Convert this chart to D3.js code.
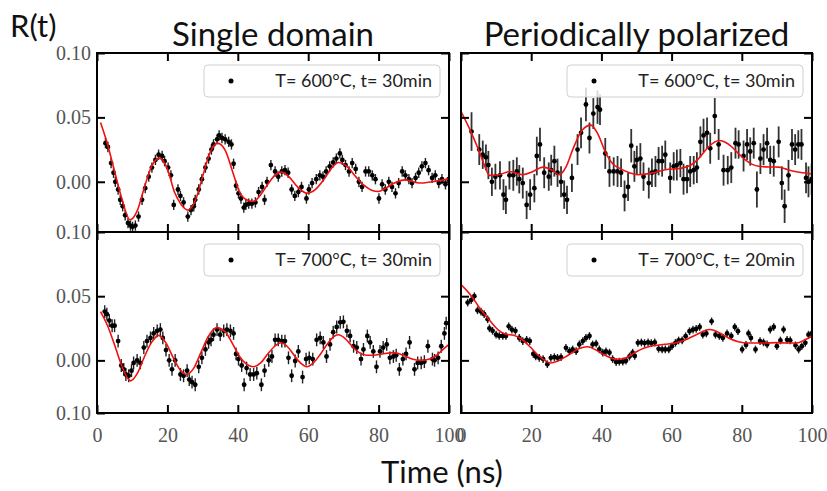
<!DOCTYPE html>
<html>
<head>
<meta charset="utf-8">
<script src="https://cdn.jsdelivr.net/npm/d3@7"></script>
<style>
  body { margin: 0; background: #fff; }
</style>
</head>
<body>
<div id="chart"></div>
<script>
// ---- data: [time (ns), R(t)] ----
const singleA = [[2.4,0.030],[3.1,0.027],[4.0,0.0145],[4.7,0.007],[5.2,0.000],[6.0,-0.006],[6.6,-0.014],[7.3,-0.019],[8.0,-0.026],[8.8,-0.032],[9.5,-0.034],[10.1,-0.035],[10.9,-0.034],[11.8,-0.027],[12.8,-0.014],[13.7,-0.005],[14.7,0.004],[15.6,0.011],[16.6,0.017],[17.5,0.021],[18.5,0.020],[19.2,0.016],[20.2,0.011],[21.0,0.005],[21.8,-0.018],[23.0,-0.006],[23.7,-0.011],[24.6,-0.016],[25.8,-0.027],[26.7,-0.022],[27.5,-0.019],[27.9,-0.014],[28.9,-0.006],[29.8,0.002],[30.8,0.011],[31.7,0.018],[32.5,0.025],[33.1,0.029],[34.1,0.033],[34.7,0.036],[35.5,0.034],[36.4,0.033],[37.4,0.031],[38.2,0.029],[38.8,0.014],[39.5,-0.003],[40.2,-0.009],[40.9,-0.013],[41.7,-0.020],[42.3,-0.018],[43.1,-0.017],[44.0,-0.017],[45.0,-0.016],[45.9,-0.008],[46.9,-0.004],[47.6,-0.014],[48.3,0.000],[49.4,0.013],[50.6,0.008],[51.5,0.004],[52.5,0.008],[53.4,0.009],[54.3,0.007],[55.3,-0.006],[56.2,-0.011],[57.2,-0.008],[58.1,-0.004],[59.5,-0.013],[60.2,-0.006],[61.1,-0.001],[62.3,0.002],[63.3,0.005],[64.2,0.004],[65.1,0.008],[66.1,0.012],[67.1,0.015],[68.0,0.018],[69.0,0.022],[69.7,0.017],[70.6,0.013],[71.6,0.008],[72.5,0.0145],[73.5,0.010],[74.4,0.000],[75.3,-0.004],[76.3,0.008],[77.2,0.008],[78.2,0.005],[79.1,0.002],[80.1,-0.013],[81.0,-0.002],[81.9,-0.006],[82.9,0.000],[83.8,-0.004],[84.8,-0.009],[85.7,-0.001],[86.7,0.008],[87.6,0.005],[88.6,0.002],[89.5,-0.001],[90.5,0.003],[91.4,0.007],[92.3,0.012],[93.3,0.0145],[94.2,0.009],[95.2,0.003],[96.1,0.005],[97.1,-0.001],[98.0,0.002],[99.0,-0.002],[99.9,0.002]];
const singleAFit = [[1,0.046],[3,0.029],[5,0.008],[7,-0.0126],[9.4,-0.0295],[11.5,-0.022],[13.5,-0.004],[15.5,0.012],[17.7,0.0184],[20,0.010],[22,-0.008],[24,-0.018],[25.9,-0.022],[28,-0.014],[30,0.004],[32,0.022],[34.2,0.030],[36.5,0.024],[38.5,0.008],[40.5,-0.008],[42.5,-0.014],[44.4,-0.0153],[46.5,-0.010],[48.5,-0.002],[50.5,0.005],[52.3,0.0075],[54.5,0.004],[57,-0.004],[59.6,-0.0088],[62,-0.006],[64.5,0.002],[66.5,0.010],[68.6,0.015],[71,0.012],[73.5,0.004],[76,-0.003],[78,-0.0065],[79.9,-0.0075],[82,-0.005],[84.5,-0.001],[87.5,0.0015],[91.8,-0.001],[95,0.000],[100,0.0023]];

const periodicA = [[3.0,0.039,0.015],[5.2,0.025,0.012],[6.2,0.021,0.011],[7.1,0.019,0.010],[7.8,0.013,0.011],[8.8,0.000,0.011],[9.8,0.004,0.010],[11.1,0.005,0.011],[12.1,-0.010,0.012],[12.8,-0.014,0.011],[13.8,0.005,0.011],[14.9,0.005,0.012],[15.9,0.008,0.011],[16.6,0.002,0.011],[17.6,-0.001,0.012],[18.7,-0.018,0.011],[19.7,-0.010,0.012],[20.9,-0.005,0.011],[21.6,0.020,0.015],[22.5,0.029,0.013],[23.7,0.007,0.012],[25.0,0.004,0.011],[25.7,0.009,0.012],[26.6,0.016,0.012],[27.5,0.007,0.011],[28.5,0.000,0.012],[29.4,-0.010,0.011],[30.2,-0.014,0.011],[31.6,0.003,0.011],[33.2,0.025,0.012],[34.2,0.038,0.012],[35.6,0.060,0.013],[36.6,0.034,0.012],[37.7,0.053,0.012],[38.9,0.058,0.013],[39.6,0.056,0.012],[41.1,0.022,0.012],[42.3,0.008,0.012],[43.5,0.008,0.011],[44.6,0.008,0.012],[45.6,0.007,0.011],[46.6,-0.011,0.012],[47.6,-0.004,0.011],[48.5,0.028,0.013],[49.4,0.012,0.012],[50.1,0.017,0.011],[51.1,0.018,0.012],[52.0,0.004,0.011],[53.5,-0.001,0.012],[54.4,0.007,0.011],[55.4,0.008,0.012],[56.3,0.016,0.011],[57.3,0.016,0.012],[58.2,0.021,0.011],[59.6,0.003,0.012],[60.6,0.012,0.011],[61.5,0.013,0.012],[62.5,0.0145,0.011],[63.4,0.002,0.012],[64.4,0.002,0.011],[65.3,0.008,0.012],[66.3,0.009,0.011],[67.2,0.011,0.012],[68.2,0.031,0.012],[69.1,0.036,0.013],[70.1,0.038,0.012],[71.0,0.026,0.012],[72.3,0.051,0.014],[73.4,0.029,0.012],[74.8,0.009,0.012],[76.0,0.009,0.011],[77.0,0.011,0.012],[78.2,0.030,0.012],[79.1,0.029,0.011],[80.5,0.020,0.012],[81.5,0.029,0.012],[82.4,0.0235,0.011],[83.4,0.030,0.012],[84.3,-0.006,0.014],[85.3,0.018,0.012],[86.2,0.025,0.012],[87.2,0.030,0.012],[88.1,0.017,0.011],[89.1,0.016,0.012],[90.5,0.031,0.012],[91.4,-0.001,0.013],[92.2,-0.019,0.013],[93.3,0.005,0.012],[94.3,0.029,0.012],[95.2,0.025,0.012],[96.1,0.029,0.011],[97.0,0.029,0.012],[98.3,0.003,0.012],[99.0,0.000,0.012],[99.9,0.002,0.012]];
const periodicAFit = [[0,0.0545],[2.8,0.039],[5.2,0.0235],[6.8,0.012],[8.1,0.005],[10.9,0.0055],[13.8,0.008],[17.6,0.0055],[20.5,0.008],[23.3,0.0114],[26,0.009],[28,0.0055],[30,0.012],[31.8,0.0248],[34.5,0.040],[37,0.044],[39,0.037],[41.3,0.022],[43.2,0.014],[45.1,0.0106],[48,0.007],[50.3,0.0055],[54,0.0065],[58.2,0.0093],[62.9,0.0106],[65.5,0.013],[67.7,0.018],[70.5,0.027],[73.5,0.032],[75,0.031],[77.2,0.027],[79,0.022],[81,0.017],[83,0.0135],[84.8,0.012],[88,0.0115],[90.5,0.0114],[93,0.0095],[95.2,0.008],[97.5,0.007],[100,0.006]];

const singleB = [[2.2,0.038],[2.8,0.036],[3.5,0.031],[4.3,0.027],[5.0,0.027],[6.0,0.015],[6.9,-0.004],[7.6,-0.007],[8.2,-0.011],[9.0,-0.012],[9.8,-0.008],[10.4,-0.002],[11.4,0.000],[12.3,-0.002],[13.3,0.010],[14.2,0.015],[15.2,0.0175],[16.1,0.021],[17.1,0.023],[18.0,0.024],[18.7,0.0175],[19.6,0.008],[20.5,0.000],[21.3,-0.007],[22.2,0.000],[23.7,-0.011],[24.6,-0.012],[25.6,-0.008],[26.2,-0.015],[27.0,-0.017],[27.9,-0.019],[28.9,-0.005],[29.8,0.002],[30.8,0.0085],[31.7,0.014],[32.4,0.016],[33.1,0.020],[34.1,0.024],[35.0,0.020],[36.0,0.023],[36.9,0.024],[37.9,0.023],[38.8,0.021],[39.5,0.005],[40.2,0.001],[41.1,-0.004],[41.8,-0.019],[42.5,-0.006],[43.5,-0.011],[44.5,-0.011],[45.4,-0.010],[46.7,-0.019],[47.6,-0.008],[48.8,0.000],[49.7,0.003],[50.6,0.016],[51.5,0.016],[52.5,0.015],[53.4,0.015],[54.4,0.002],[55.3,-0.012],[56.3,-0.0005],[57.2,0.007],[58.4,-0.013],[59.4,0.001],[60.3,0.002],[61.3,0.001],[62.4,0.016],[63.4,0.0175],[64.3,0.014],[65.2,0.003],[66.2,0.0124],[67.1,0.022],[68.1,0.026],[69.1,0.0296],[70.0,0.030],[71.0,0.023],[71.9,0.019],[72.9,0.011],[73.8,0.010],[75.0,0.001],[75.7,0.0085],[76.8,0.019],[77.6,0.014],[78.5,0.007],[79.4,-0.005],[80.4,0.007],[81.3,0.010],[82.3,0.0124],[83.2,0.002],[84.2,0.003],[85.0,0.004],[85.9,-0.007],[86.9,0.001],[87.8,0.005],[88.8,0.014],[90.2,-0.007],[91.1,-0.002],[92.1,-0.002],[93.0,-0.001],[94.0,0.011],[95.3,0.001],[95.9,0.000],[96.9,0.002],[97.8,0.011],[98.7,0.021],[99.2,0.029]];
const singleBFit = [[1,0.038],[3,0.027],[5,0.012],[7,-0.004],[9.5,-0.016],[11.5,-0.010],[13.5,0.003],[15.5,0.014],[17.5,0.0195],[19.5,0.014],[21.5,0.003],[23.5,-0.007],[25.4,-0.011],[27.5,-0.006],[29.5,0.006],[31.5,0.018],[34,0.0255],[36.5,0.022],[38.5,0.013],[40.5,0.003],[42.5,-0.003],[44.4,-0.005],[46.5,-0.002],[48.5,0.005],[50.5,0.011],[52.2,0.0137],[54,0.011],[56,0.004],[57.8,-0.002],[59.6,-0.005],[61.5,-0.002],[63.5,0.005],[65.5,0.013],[67.5,0.019],[68.6,0.020],[70.5,0.017],[72.5,0.011],[74.5,0.006],[76.5,0.004],[78.5,0.004],[81,0.005],[84.2,0.006],[87,0.004],[89.5,0.001],[92,0.000],[94.5,0.001],[96.5,0.004],[98.5,0.009],[100,0.0124]];

const periodicB = [[1.9,0.045],[2.9,0.047],[3.8,0.050],[4.7,0.039],[5.7,0.038],[6.6,0.036],[7.6,0.032],[8.1,0.025],[9.0,0.023],[10.0,0.020],[10.9,0.019],[11.9,0.019],[12.8,0.019],[13.6,0.0265],[14.5,0.024],[15.5,0.023],[16.6,0.0175],[17.6,0.015],[18.7,0.016],[19.6,0.015],[20.6,0.005],[21.3,0.003],[22.3,0.002],[23.4,0.001],[24.6,-0.003],[25.6,0.002],[26.6,0.0025],[27.5,0.002],[28.5,0.0025],[29.9,0.0098],[30.9,0.0072],[31.8,0.0085],[32.8,0.0072],[33.7,0.0124],[34.7,0.015],[35.6,0.0175],[36.6,0.019],[37.5,0.0124],[38.5,0.013],[39.4,0.0085],[40.4,0.006],[41.3,0.007],[42.3,0.006],[43.2,0.001],[44.2,-0.0013],[45.1,-0.001],[46.1,-0.001],[47.0,-0.0003],[48.0,0.003],[48.9,0.006],[49.5,0.0035],[50.4,0.0137],[51.4,0.014],[52.3,0.0135],[53.3,0.014],[54.2,0.0135],[55.2,0.014],[56.3,0.009],[57.3,0.0085],[58.2,0.0085],[59.2,0.0085],[60.1,0.011],[61.1,0.0137],[62.0,0.0155],[63.0,0.0155],[64.0,0.0188],[65.1,0.0227],[66.1,0.024],[67.0,0.0245],[68.0,0.026],[68.9,0.020],[69.9,0.021],[71.4,0.0304],[72.5,0.020],[73.6,0.019],[74.6,0.0175],[75.8,0.021],[77.0,0.019],[78.0,0.026],[78.9,0.0227],[80.1,0.0085],[81.2,0.012],[81.9,0.021],[82.6,0.0175],[83.9,0.0085],[85.2,0.015],[86.2,0.014],[87.2,0.0124],[88.1,0.024],[89.1,0.026],[90.0,0.011],[91.0,0.0155],[91.9,0.024],[92.9,0.016],[93.8,0.0155],[95.3,0.0117],[96.2,0.0085],[97.1,0.011],[98.1,0.0137],[99.0,0.020],[99.9,0.021]];
const periodicBFit = [[0,0.059],[3,0.050],[5.5,0.040],[8.2,0.031],[10.5,0.024],[12.5,0.0205],[15,0.0195],[17,0.017],[19.5,0.011],[22,0.004],[25.5,-0.002],[28,0.000],[30.5,0.004],[33.5,0.009],[36.1,0.0106],[38.5,0.008],[41,0.004],[44.3,0.0008],[47,0.002],[49.5,0.006],[52,0.0095],[55,0.0115],[58,0.0125],[61,0.0135],[64,0.016],[67,0.020],[70.9,0.024],[74,0.021],[76.5,0.017],[79,0.0145],[82,0.0135],[86,0.0135],[90,0.0138],[93,0.0135],[95.6,0.0135],[98,0.016],[100,0.0188]];

const legendLabels = ["T= 600°C, t= 30min", "T= 600°C, t= 30min", "T= 700°C, t= 30min", "T= 700°C, t= 20min"];
const columnTitles = ["Single domain", "Periodically polarized"];
const xTicks = [0, 20, 40, 60, 80, 100];
const yTicks = [0, 0.05, 0.10];

// ---- layout ----
const width = 827, height = 491;
const sans = "Lato, 'Open Sans', sans-serif";
const serif = "'Liberation Serif', 'DejaVu Serif', serif";

const svg = d3.select("#chart")
  .append("svg")
  .attr("width", width)
  .attr("height", height);

const xLeft = d3.scaleLinear().domain([0, 100]).range([97, 449]);
const xRight = d3.scaleLinear().domain([0, 100]).range([461, 812]);
const yTop = d3.scaleLinear().domain([-0.039, 0.10]).range([232, 53]);
const yBot = d3.scaleLinear().domain([-0.041, 0.10]).range([413, 232]);

const panels = [
  { pts: singleA, fit: singleAFit, err: 0.004, x: xLeft, y: yTop, label: legendLabels[0], yLabels: true, bottom: false },
  { pts: periodicA, fit: periodicAFit, err: null, x: xRight, y: yTop, label: legendLabels[1], yLabels: false, bottom: false },
  { pts: singleB, fit: singleBFit, err: 0.005, x: xLeft, y: yBot, label: legendLabels[2], yLabels: true, bottom: true },
  { pts: periodicB, fit: periodicBFit, err: 0.003, x: xRight, y: yBot, label: legendLabels[3], yLabels: false, bottom: true }
];

const fmt = d3.format(".2f");

panels.forEach(function (p, i) {
  const [x0, x1] = p.x.range();
  const [y1, y0] = p.y.range();
  const g = svg.append("g");

  const clipId = "clip" + i;
  svg.append("clipPath").attr("id", clipId)
    .append("rect")
    .attr("x", x0).attr("y", y0)
    .attr("width", x1 - x0).attr("height", y1 - y0);

  const plot = g.append("g").attr("clip-path", `url(#${clipId})`);

  // error bars
  plot.selectAll(".err")
    .data(p.pts)
    .join("line")
    .attr("class", "err")
    .attr("x1", d => p.x(d[0]))
    .attr("x2", d => p.x(d[0]))
    .attr("y1", d => p.y(d[1] - (p.err === null ? d[2] : p.err)))
    .attr("y2", d => p.y(d[1] + (p.err === null ? d[2] : p.err)))
    .style("stroke", p.err === null ? "#333" : "#222")
    .style("stroke-width", p.err === null ? 1.8 : 1.4);

  // points
  plot.selectAll(".pt")
    .data(p.pts)
    .join("circle")
    .attr("class", "pt")
    .attr("cx", d => p.x(d[0]))
    .attr("cy", d => p.y(d[1]))
    .attr("r", 2.4)
    .style("fill", "#000");

  // fit line
  const line = d3.line()
    .x(d => p.x(d[0]))
    .y(d => p.y(d[1]))
    .curve(d3.curveMonotoneX);
  plot.append("path")
    .datum(p.fit)
    .attr("d", line)
    .style("fill", "none")
    .style("stroke", "#f01010")
    .style("stroke-width", 1.6);

  // axes, ticks pointing inward on all sides
  const axB = g.append("g")
    .attr("transform", `translate(0,${y1})`)
    .call(d3.axisBottom(p.x).tickValues(xTicks).tickSizeInner(-8).tickSizeOuter(0)
      .tickPadding(p.bottom ? 15 : 0)
      .tickFormat(p.bottom ? d3.format("d") : ""));
  const axT = g.append("g")
    .attr("transform", `translate(0,${y0})`)
    .call(d3.axisTop(p.x).tickValues(xTicks).tickSizeInner(-8).tickSizeOuter(0).tickFormat(""));

  const yVals = p.bottom && p.yLabels ? [p.y.domain()[0]].concat(yTicks) : yTicks;
  const axL = g.append("g")
    .attr("transform", `translate(${x0},0)`)
    .call(d3.axisLeft(p.y).tickValues(yVals).tickSizeInner(-8).tickSizeOuter(0)
      .tickPadding(6)
      .tickFormat(p.yLabels ? (d => d < 0 ? "0.10" : fmt(d)) : ""));
  const axR = g.append("g")
    .attr("transform", `translate(${x1},0)`)
    .call(d3.axisRight(p.y).tickValues(yTicks).tickSizeInner(-8).tickSizeOuter(0).tickFormat(""));

  [axB, axT, axL, axR].forEach(function (a) {
    a.select(".domain").remove();
    a.selectAll(".tick line").style("stroke", "#000").style("stroke-width", 2);
    a.selectAll(".tick text")
      .style("font-family", serif)
      .style("font-size", "20px")
      .style("fill", "#555");
  });

  // frame
  g.append("rect")
    .attr("x", x0).attr("y", y0)
    .attr("width", x1 - x0).attr("height", y1 - y0)
    .style("fill", "none")
    .style("stroke", "#000")
    .style("stroke-width", 2);

  // legend
  const lw = 236, lh = 32;
  const lg = g.append("g")
    .attr("transform", `translate(${x1 - 9 - lw},${y0 + 12})`);
  lg.append("rect")
    .attr("width", lw).attr("height", lh)
    .attr("rx", 4)
    .style("fill", "#fff")
    .style("fill-opacity", 0.8)
    .style("stroke", "#d0d0d0")
    .style("stroke-width", 1);
  lg.append("circle")
    .attr("cx", 27).attr("cy", 16)
    .attr("r", 2.5)
    .style("fill", "#000");
  lg.append("text")
    .attr("x", lw - 8).attr("y", 16)
    .attr("dy", "0.35em")
    .style("text-anchor", "end")
    .style("font-family", sans)
    .style("font-size", "18px")
    .style("fill", "#222")
    .text(p.label);
});

// column titles
svg.selectAll(".col-title")
  .data(columnTitles)
  .join("text")
  .attr("class", "col-title")
  .attr("x", (d, i) => i === 0 ? d3.mean(xLeft.range()) : d3.mean(xRight.range()))
  .attr("y", 46)
  .style("text-anchor", "middle")
  .style("font-family", sans)
  .style("font-size", "33px")
  .style("fill", "#111")
  .text(d => d);

// axis titles
svg.append("text")
  .attr("x", 10)
  .attr("y", 37)
  .style("font-family", sans)
  .style("font-size", "31px")
  .style("fill", "#111")
  .text("R(t)");

svg.append("text")
  .attr("x", 442)
  .attr("y", 483)
  .style("text-anchor", "middle")
  .style("font-family", sans)
  .style("font-size", "31px")
  .style("fill", "#111")
  .text("Time (ns)");
</script>
</body>
</html>
